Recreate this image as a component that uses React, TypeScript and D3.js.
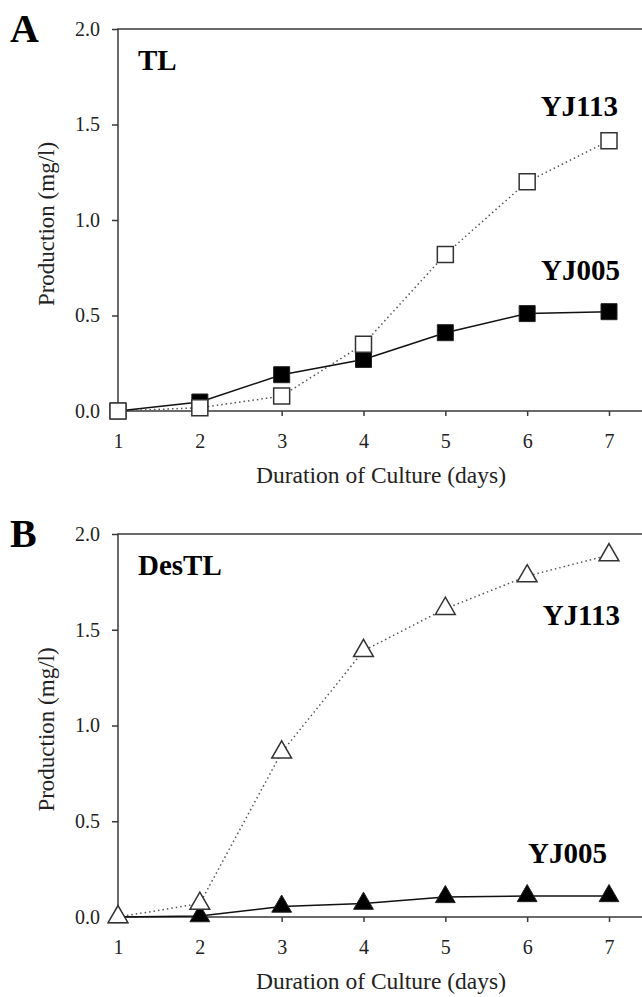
import * as d3 from "d3";
import { useEffect, useRef } from "react";

// days on the x axis
const days = [1, 2, 3, 4, 5, 6, 7];
const yTicks = [0, 0.5, 1.0, 1.5, 2.0];

// panel A, TL production (mg/l)
const tlYJ113 = [0.0, 0.017, 0.078, 0.35, 0.82, 1.2, 1.415];
const tlYJ005 = [0.0, 0.047, 0.19, 0.27, 0.41, 0.51, 0.52];

// panel B, DesTL production (mg/l)
const desYJ113 = [0.0, 0.07, 0.86, 1.39, 1.61, 1.78, 1.89];
const desYJ005 = [0.0, 0.005, 0.055, 0.07, 0.105, 0.11, 0.11];

const serif = "'Liberation Serif', 'Times New Roman', serif";

function App() {
    const ref = useRef(null);

    useEffect(() => {
        const svg = d3.select(ref.current);
        svg.selectAll("*").remove();

        const x = d3.scaleLinear().domain([1, 7]).range([118, 609]);

        const panels = [
            {
                letter: "A", title: "TL", top: 29, bottom: 411, marker: d3.symbolSquare, size: 256,
                a: tlYJ113, b: tlYJ005,
                labA: { x: 618, y: 116 }, labB: { x: 620, y: 280 },
            },
            {
                letter: "B", title: "DesTL", top: 534, bottom: 917, marker: d3.symbolTriangle, size: 170,
                a: desYJ113, b: desYJ005,
                labA: { x: 620, y: 625 }, labB: { x: 607, y: 863 },
            },
        ];

        panels.forEach((p) => {
            const y = d3.scaleLinear().domain([0, 2]).range([p.bottom, p.top]);
            const g = svg.append("g");

            // frame: top, left, bottom
            g.append("path")
                .attr("d", `M642,${y(2)}H${x(1)}V${y(0)}H642`)
                .attr("fill", "none")
                .attr("stroke", "#3a3a3a")
                .attr("stroke-width", 1.5);

            const yAxis = g.append("g")
                .attr("transform", `translate(${x(1)},0)`)
                .call(d3.axisLeft(y).tickValues(yTicks).tickFormat(d3.format(".1f")).tickSize(6).tickPadding(12));
            yAxis.select(".domain").remove();

            const xAxis = g.append("g")
                .attr("transform", `translate(0,${y(0)})`)
                .call(d3.axisBottom(x).tickValues(days).tickFormat(d3.format("d")).tickSize(5).tickPadding(18));
            xAxis.select(".domain").remove();

            [yAxis, xAxis].forEach((ax) => {
                ax.selectAll("line").attr("stroke", "#3a3a3a").attr("stroke-width", 1.5);
                ax.selectAll("text")
                    .attr("fill", "#222")
                    .style("font-family", serif)
                    .style("font-size", "20px");
            });

            const line = d3.line().x((d, i) => x(days[i])).y((d) => y(d));

            // YJ113 dotted, YJ005 solid
            g.append("path")
                .datum(p.a)
                .attr("d", line)
                .attr("fill", "none")
                .attr("stroke", "#555")
                .attr("stroke-width", 1.5)
                .attr("stroke-dasharray", "1.5,3");
            g.append("path")
                .datum(p.b)
                .attr("d", line)
                .attr("fill", "none")
                .attr("stroke", "#111")
                .attr("stroke-width", 1.5);

            const sym = d3.symbol().type(p.marker).size(p.size);

            g.selectAll(".fill")
                .data(p.b)
                .enter()
                .append("path")
                .attr("d", sym)
                .attr("transform", (d, i) => `translate(${x(days[i])},${y(d)})`)
                .attr("fill", "#000")
                .attr("stroke", "#222")
                .attr("stroke-width", 1);

            g.selectAll(".open")
                .data(p.a)
                .enter()
                .append("path")
                .attr("d", sym)
                .attr("transform", (d, i) => `translate(${x(days[i])},${y(d)})`)
                .attr("fill", "#fff")
                .attr("stroke", "#333")
                .attr("stroke-width", 1.5);

            // labels
            g.append("text").attr("x", 10).attr("y", p.top + 13)
                .style("font-family", serif).style("font-size", "40px").style("font-weight", "bold")
                .text(p.letter);
            g.append("text").attr("x", 138).attr("y", p.top + 41)
                .style("font-family", serif).style("font-size", "29px").style("font-weight", "bold")
                .text(p.title);
            g.append("text").attr("x", p.labA.x).attr("y", p.labA.y).attr("text-anchor", "end")
                .style("font-family", serif).style("font-size", "29px").style("font-weight", "bold")
                .text("YJ113");
            g.append("text").attr("x", p.labB.x).attr("y", p.labB.y).attr("text-anchor", "end")
                .style("font-family", serif).style("font-size", "29px").style("font-weight", "bold")
                .text("YJ005");

            // axis titles
            g.append("text")
                .attr("transform", `translate(54,${(p.top + p.bottom) / 2 + 4}) rotate(-90)`)
                .attr("text-anchor", "middle")
                .attr("fill", "#222")
                .style("font-family", serif).style("font-size", "23px")
                .text("Production (mg/l)");
            g.append("text")
                .attr("x", 381).attr("y", p.bottom + 72)
                .attr("text-anchor", "middle")
                .attr("fill", "#222")
                .style("font-family", serif).style("font-size", "23.5px")
                .text("Duration of Culture (days)");
        });
    }, []);

    return (
        <svg
            ref={ref}
            width={642}
            height={997}
            style={{ position: "absolute", left: 0, top: 0, background: "#fff" }}
        ></svg>
    );
}

export default App;
